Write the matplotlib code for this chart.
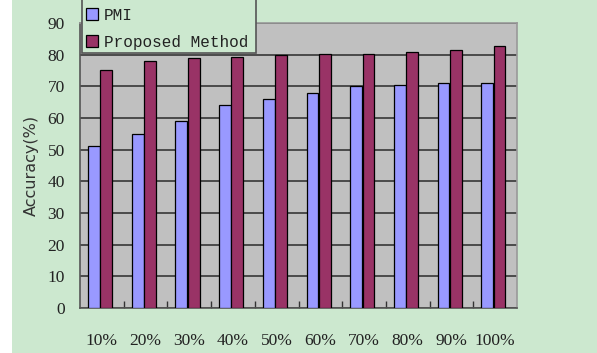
import matplotlib
matplotlib.use('Agg')
import matplotlib.pyplot as plt
import numpy as np

# accuracy vs. fraction of training data
categories = ['10%', '20%', '30%', '40%', '50%', '60%', '70%', '80%', '90%', '100%']
pmi = [51, 55, 59, 64, 66, 68, 70, 70.4, 71, 71]
proposed = [75, 78, 79, 79.4, 79.8, 80.1, 80.2, 80.7, 81.4, 82.7]
yticks = list(range(0, 100, 10))

W, H = 597, 353
bg = '#cce8cf'
fig = plt.figure(figsize=(W / 100, H / 100), dpi=100)
fig.patch.set_facecolor(bg)
# thin white strip along the left edge
fig.add_artist(plt.Rectangle((0, 0), 12 / W, 1, transform=fig.transFigure,
                             facecolor='white', edgecolor='none'))

ax = fig.add_axes([80 / W, 45 / H, 437 / W, 285 / H])
ax.set_facecolor('#c0c0c0')

x = np.arange(len(categories))
bw = 0.27
b1 = ax.bar(x - 0.18, pmi, bw, color='#9999ff', edgecolor='black', linewidth=0.9,
            label='PMI', zorder=3)
b2 = ax.bar(x + 0.10, proposed, bw, color='#993366', edgecolor='black', linewidth=0.9,
            label='Proposed Method', zorder=3)

ax.set_xlim(-0.5, len(categories) - 0.5)
ax.set_ylim(0, 90)
ax.set_yticks(yticks)
ax.set_yticklabels([str(v) for v in yticks], family='Liberation Serif', fontsize=12.5,
                   color='#222222')
ax.set_xticks(x)
ax.set_xticklabels(categories, family='Liberation Serif', fontsize=12.5, color='#222222')
ax.tick_params(axis='x', length=0, pad=18)
ax.tick_params(axis='y', length=0, pad=11)
# small inward ticks at category boundaries
ax.set_xticks(np.arange(0.5, len(categories) - 0.5, 1), minor=True)
ax.tick_params(axis='x', which='minor', direction='in', length=5, width=1, color='#333333')

ax.grid(axis='y', color='#2a2a2a', linewidth=1.1, zorder=1)
for s in ['top', 'right']:
    ax.spines[s].set_color('#999999')
    ax.spines[s].set_linewidth(1.2)
for s in ['left', 'bottom']:
    ax.spines[s].set_color('#555555')
    ax.spines[s].set_linewidth(1.2)

ax.set_ylabel('Accuracy(%)', family='DejaVu Sans', fontsize=11.5, color='#333333',
              labelpad=6)

# legend box runs off the top edge
fig.add_artist(plt.Rectangle((82 / W, (H - 53) / H), 174 / W, 60 / H,
                             transform=fig.transFigure, facecolor=bg,
                             edgecolor='#555555', linewidth=1.2, zorder=4))
leg = fig.legend([b1, b2], ['PMI', 'Proposed Method'], loc='lower left',
                 bbox_to_anchor=(84 / W, (H - 52) / H),
                 prop={'family': 'Liberation Mono', 'size': 11.5},
                 frameon=False, handlelength=0.75, handleheight=0.75,
                 handletextpad=0.35, labelspacing=0.75, borderpad=0.15, borderaxespad=0)
leg.set_zorder(5)
for t in leg.get_texts():
    t.set_color('#222222')

fig.savefig('out.png', dpi=100, facecolor=fig.get_facecolor())
